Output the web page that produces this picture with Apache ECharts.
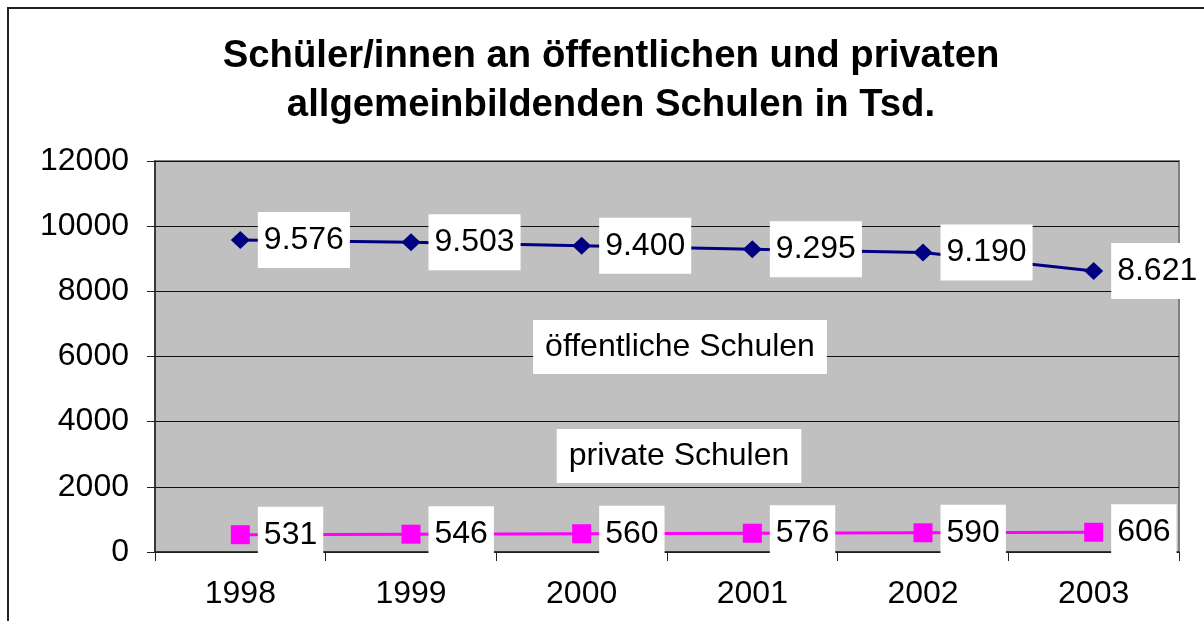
<!DOCTYPE html>
<html>
<head>
<meta charset="utf-8">
<title>Schüler/innen an öffentlichen und privaten allgemeinbildenden Schulen</title>
<script src="https://cdn.jsdelivr.net/npm/echarts@6/dist/echarts.min.js"></script>
<style>
  html, body { margin: 0; padding: 0; background: #fff; }
  #chart { width: 1204px; height: 621px; }
</style>
</head>
<body>
<div id="chart"></div>
<script>
const years = ['1998', '1999', '2000', '2001', '2002', '2003']
const oeffentlich = [9576, 9503, 9400, 9295, 9190, 8621]
const privat = [531, 546, 560, 576, 590, 606]
const yTicks = { min: 0, max: 12000, interval: 2000 }

const FONT = '"Liberation Sans", Arial, sans-serif'

// Tausenderpunkt wie im Original (9.576)
const fmt = v => String(v).replace(/\B(?=(\d{3})+(?!\d))/g, '.')

const chart = echarts.init(document.getElementById('chart'))

const dataLabel = {
  show: true,
  position: 'right',
  distance: 8,
  formatter: p => fmt(p.value),
  color: '#000',
  fontFamily: FONT,
  fontSize: 32,
  lineHeight: 34,
  backgroundColor: '#fff',
  padding: [11, 6, 11, 6]
}

const option = {
  animation: false,
  backgroundColor: '#fff',
  title: {
    text: 'Schüler/innen an öffentlichen und privaten\nallgemeinbildenden Schulen in Tsd.',
    left: 606,
    top: 27,
    textAlign: 'center',
    textStyle: {
      fontFamily: FONT,
      fontSize: 38.3,
      fontWeight: 'bold',
      lineHeight: 49,
      color: '#000'
    }
  },
  grid: {
    left: 155,
    right: 25,
    top: 161,
    bottom: 69,
    show: true,
    backgroundColor: '#c0c0c0',
    borderColor: '#808080',
    borderWidth: 2
  },
  xAxis: {
    type: 'category',
    data: years,
    boundaryGap: true,
    axisLine: { lineStyle: { color: '#222', width: 1.5 } },
    axisTick: { show: true, length: 9, lineStyle: { color: '#222' } },
    axisLabel: { color: '#000', fontFamily: FONT, fontSize: 32, margin: 26 },
    splitLine: { show: false }
  },
  yAxis: {
    type: 'value',
    min: yTicks.min,
    max: yTicks.max,
    interval: yTicks.interval,
    axisLine: { show: true, lineStyle: { color: '#222', width: 1.5 } },
    axisTick: { show: true, length: 8, lineStyle: { color: '#222' } },
    axisLabel: {
      color: '#000',
      fontFamily: FONT,
      fontSize: 32,
      margin: 26,
      formatter: v => String(v)
    },
    splitLine: { show: true, lineStyle: { color: '#111', width: 1 } }
  },
  series: [
    {
      name: 'öffentliche Schulen',
      type: 'line',
      data: oeffentlich,
      symbol: 'diamond',
      symbolSize: [19, 18],
      lineStyle: { color: '#000080', width: 3 },
      itemStyle: { color: '#000080' },
      label: dataLabel,
      z: 3
    },
    {
      name: 'private Schulen',
      type: 'line',
      data: privat,
      symbol: 'rect',
      symbolSize: 19,
      lineStyle: { color: '#ff00ff', width: 3 },
      itemStyle: { color: '#ff00ff' },
      label: dataLabel,
      z: 3
    }
  ],
  graphic: [
    {
      type: 'rect',
      silent: true,
      shape: { x: 8, y: 8, width: 1400, height: 900 },
      style: { fill: 'none', stroke: '#222', lineWidth: 2 }
    },
    {
      type: 'text',
      x: 680,
      y: 347,
      z: 10,
      style: {
        text: 'öffentliche Schulen',
        font: '32px ' + FONT,
        fill: '#000',
        align: 'center',
        verticalAlign: 'middle',
        lineHeight: 34,
        backgroundColor: '#fff',
        padding: [10, 12, 10, 12]
      }
    },
    {
      type: 'text',
      x: 679,
      y: 456,
      z: 10,
      style: {
        text: 'private Schulen',
        font: '32px ' + FONT,
        fill: '#000',
        align: 'center',
        verticalAlign: 'middle',
        lineHeight: 34,
        backgroundColor: '#fff',
        padding: [10, 12, 10, 12]
      }
    }
  ]
}

chart.setOption(option)
</script>
</body>
</html>
